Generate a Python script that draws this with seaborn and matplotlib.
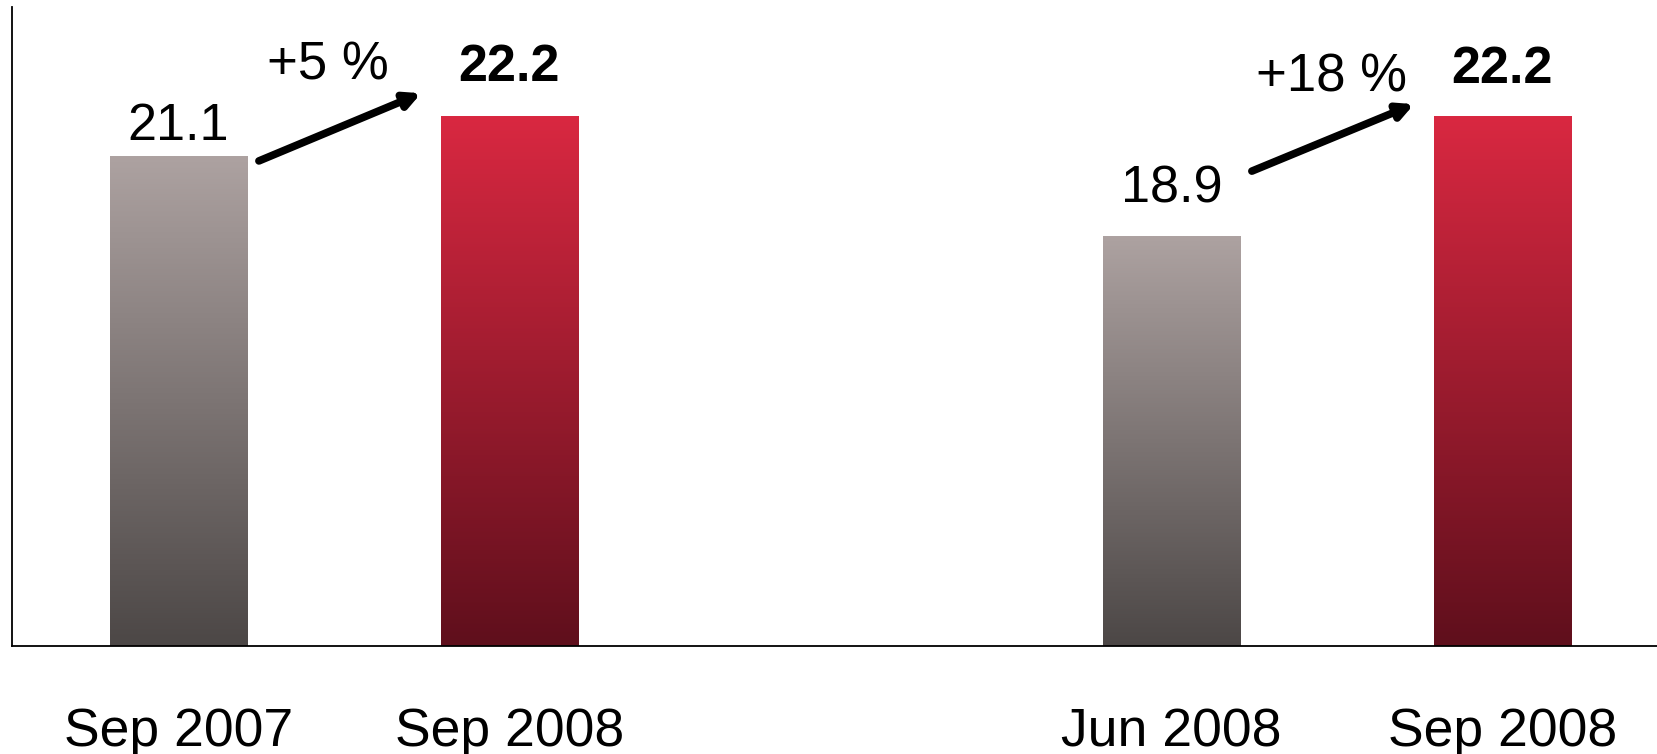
import numpy as np
import pandas as pd
import matplotlib
matplotlib.use("Agg")
import matplotlib.pyplot as plt
import seaborn as sns
from matplotlib.colors import LinearSegmentedColormap

# ---- data ----
periods = ["Sep 2007", "Sep 2008", "Jun 2008", "Sep 2008"]
positions = [0, 1, 3, 4]
values = [21.1, 22.2, 18.9, 22.2]
value_labels = ["21.1", "22.2", "18.9", "22.2"]
growth_labels = ["+5 %", "+18 %"]
kinds = ["base", "current", "base", "current"]

df = pd.DataFrame({"pos": positions, "value": values, "kind": kinds})

sns.set_theme(style="white")
plt.rcParams["font.family"] = ["Liberation Sans", "DejaVu Sans"]

fig = plt.figure(figsize=(16.57, 7.54), dpi=100)
ax = fig.add_axes([12 / 1657, 1 - 646 / 754, 1 - 12 / 1657, (646 - 7) / 754])

sns.barplot(data=df, x="pos", y="value", native_scale=True, width=0.415,
            color="white", ax=ax, errorbar=None, linewidth=0)

ymin, ymax = 7.64, 25.2
ax.set_ylim(ymin, ymax)
ax.set_xlim(-0.503, 4.467)

cmaps = {
    "base": LinearSegmentedColormap.from_list("g", ["#4c4746", "#ada2a1"]),
    "current": LinearSegmentedColormap.from_list("r", ["#5f0f1c", "#d92841"]),
}
grad = np.linspace(0, 1, 256).reshape(-1, 1)
for patch, kind, val in zip(ax.patches, kinds, values):
    x0 = patch.get_x()
    w = patch.get_width()
    im = ax.imshow(grad, cmap=cmaps[kind], origin="lower", aspect="auto",
                   extent=[x0, x0 + w, ymin, val], zorder=2)
    im.set_clip_path(patch)
    patch.set_edgecolor("none")

# value labels
offsets = [12, 25, 24, 24]
weights = ["normal", "bold", "normal", "bold"]
for x, v, lab, off, wt in zip(positions, values, value_labels, offsets, weights):
    ax.annotate(lab, (x, v), xytext=(0, off), textcoords="offset points",
                ha="center", va="baseline", fontsize=37.5, fontweight=wt,
                color="black", annotation_clip=False)

# growth arrows and labels
pairs = [(0, 1), (2, 3)]
arrow_y = [(20.97, 22.83), (20.69, 22.53)]
text_pos = [(0.45, 23.22), (3.485, 22.89)]
for (i, j), (ys, ye), lab, tp in zip(pairs, arrow_y, growth_labels, text_pos):
    xs = positions[i] + 0.243
    xe = positions[j] - 0.267
    ax.annotate("", xy=(xe, ye), xytext=(xs, ys),
                arrowprops=dict(arrowstyle="-|>,head_length=0.75,head_width=0.38",
                                lw=5.5, color="black", shrinkA=0, shrinkB=0))
    ax.text(tp[0], tp[1], lab, ha="center", va="baseline", fontsize=38, color="black")

ax.set_xticks(positions)
ax.set_xticklabels(periods, fontsize=38.5)
ax.tick_params(axis="x", length=0, pad=44, colors="black")
ax.set_yticks([])
ax.set_xlabel("")
ax.set_ylabel("")
sns.despine(ax=ax, top=True, right=True)
for s in ["left", "bottom"]:
    ax.spines[s].set_color("black")
    ax.spines[s].set_linewidth(1.3)

fig.savefig("out.png", dpi=100, facecolor="white")
